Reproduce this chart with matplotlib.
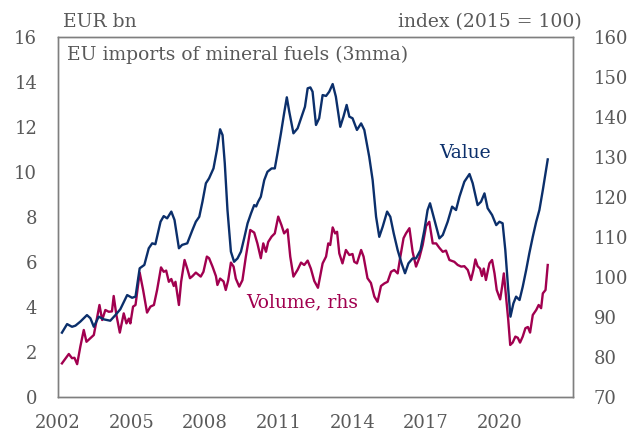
import matplotlib
matplotlib.use("Agg")
import matplotlib.pyplot as plt

# EU imports of mineral fuels, 3-month moving averages
value_dates = [2002.16, 2002.37, 2002.57, 2002.71, 2002.91, 2003.18, 2003.32, 2003.46, 2003.66, 2003.87,
               2004.13, 2004.34, 2004.54, 2004.82, 2005.02, 2005.16, 2005.33, 2005.52, 2005.70, 2005.84,
               2005.97, 2006.18, 2006.31, 2006.45, 2006.62, 2006.75, 2006.93, 2007.06, 2007.27, 2007.48,
               2007.62, 2007.76, 2007.89, 2008.03, 2008.16, 2008.34, 2008.48, 2008.61, 2008.71, 2008.80,
               2008.91, 2009.05, 2009.18, 2009.32, 2009.46, 2009.59, 2009.73, 2009.87, 2010.00, 2010.08,
               2010.16, 2010.27, 2010.41, 2010.54, 2010.71, 2010.84, 2010.95, 2011.09, 2011.22, 2011.33,
               2011.43, 2011.60, 2011.77, 2011.91, 2012.07, 2012.18, 2012.29, 2012.38, 2012.52, 2012.65,
               2012.79, 2012.93, 2013.06, 2013.20, 2013.33, 2013.51, 2013.64, 2013.77, 2013.88, 2014.01,
               2014.19, 2014.36, 2014.49, 2014.69, 2014.83, 2014.97, 2015.10, 2015.24, 2015.42, 2015.55,
               2015.69, 2015.85, 2016.01, 2016.15, 2016.29, 2016.46, 2016.60, 2016.78, 2016.94, 2017.07,
               2017.17, 2017.28, 2017.42, 2017.55, 2017.69, 2017.89, 2018.07, 2018.23, 2018.37, 2018.57,
               2018.78, 2018.91, 2019.11, 2019.25, 2019.39, 2019.52, 2019.70, 2019.87, 2020.00, 2020.13,
               2020.24, 2020.34, 2020.45, 2020.57, 2020.68, 2020.82, 2020.95, 2021.09, 2021.22, 2021.36,
               2021.50, 2021.63, 2021.77, 2021.88, 2021.97]
value_eur_bn = [2.86, 3.24, 3.12, 3.17, 3.35, 3.64, 3.50, 3.12, 3.57, 3.45,
                3.39, 3.64, 3.90, 4.53, 4.41, 4.46, 5.72, 5.87, 6.61, 6.83,
                6.79, 7.79, 8.04, 7.94, 8.24, 7.87, 6.61, 6.76, 6.83, 7.42,
                7.79, 8.01, 8.68, 9.50, 9.72, 10.16, 10.98, 11.90, 11.64, 10.39,
                8.31, 6.46, 6.01, 6.16, 6.46, 7.05, 7.72, 8.16, 8.53, 8.47,
                8.68, 8.90, 9.64, 10.01, 10.16, 10.16, 10.83, 11.72, 12.61, 13.32,
                12.68, 11.72, 11.94, 12.39, 12.90, 13.72, 13.76, 13.57, 12.09, 12.39,
                13.42, 13.38, 13.57, 13.91, 13.35, 12.01, 12.46, 12.98, 12.46, 12.39,
                11.87, 12.16, 11.87, 10.68, 9.64, 8.01, 7.12, 7.57, 8.24, 8.01,
                7.27, 6.53, 5.94, 5.50, 5.94, 6.16, 6.16, 6.53, 7.42, 8.31,
                8.61, 8.16, 7.57, 7.05, 7.20, 7.79, 8.46, 8.31, 8.90, 9.57,
                9.91, 9.50, 8.53, 8.68, 9.05, 8.39, 8.09, 7.64, 7.79, 7.72,
                6.53, 5.05, 3.57, 4.16, 4.46, 4.31, 4.90, 5.64, 6.39, 7.12,
                7.79, 8.31, 9.20, 9.94, 10.56]

volume_dates = [2002.16, 2002.44, 2002.57, 2002.67, 2002.78, 2002.91, 2003.05, 2003.16, 2003.32, 2003.46,
                2003.59, 2003.69, 2003.80, 2003.93, 2004.07, 2004.20, 2004.27, 2004.38, 2004.52, 2004.68,
                2004.79, 2004.89, 2004.95, 2005.06, 2005.16, 2005.33, 2005.47, 2005.63, 2005.77, 2005.91,
                2006.04, 2006.20, 2006.31, 2006.41, 2006.52, 2006.62, 2006.72, 2006.79, 2006.93, 2007.02,
                2007.16, 2007.27, 2007.38, 2007.48, 2007.62, 2007.82, 2007.93, 2008.07, 2008.16, 2008.30,
                2008.44, 2008.50, 2008.61, 2008.75, 2008.84, 2008.94, 2009.05, 2009.16, 2009.25, 2009.39,
                2009.52, 2009.66, 2009.84, 2010.00, 2010.13, 2010.27, 2010.37, 2010.48, 2010.57, 2010.71,
                2010.84, 2010.98, 2011.11, 2011.22, 2011.36, 2011.47, 2011.60, 2011.77, 2011.91, 2012.04,
                2012.18, 2012.31, 2012.45, 2012.60, 2012.79, 2012.93, 2013.02, 2013.10, 2013.20, 2013.30,
                2013.38, 2013.47, 2013.60, 2013.74, 2013.88, 2014.01, 2014.08, 2014.19, 2014.36, 2014.46,
                2014.62, 2014.76, 2014.90, 2015.03, 2015.17, 2015.31, 2015.44, 2015.58, 2015.71, 2015.85,
                2015.96, 2016.09, 2016.19, 2016.33, 2016.46, 2016.60, 2016.73, 2016.87, 2017.01, 2017.14,
                2017.28, 2017.42, 2017.55, 2017.69, 2017.82, 2017.96, 2018.16, 2018.30, 2018.44, 2018.57,
                2018.71, 2018.84, 2018.94, 2019.02, 2019.11, 2019.21, 2019.29, 2019.36, 2019.45, 2019.59,
                2019.70, 2019.80, 2019.89, 2020.03, 2020.11, 2020.18, 2020.27, 2020.36, 2020.44, 2020.54,
                2020.65, 2020.75, 2020.84, 2020.95, 2021.06, 2021.16, 2021.25, 2021.36, 2021.50, 2021.60,
                2021.70, 2021.77, 2021.88, 2021.97]
volume_index = [78.4, 80.75, 79.7, 79.8, 78.2, 82.6, 86.75, 83.8, 84.7, 85.5,
                89.7, 93.0, 89.25, 91.75, 91.3, 91.4, 95.25, 90.5, 86.1, 90.9,
                88.4, 89.6, 88.4, 92.6, 93.0, 101.1, 96.75, 91.1, 92.6, 93.0,
                96.75, 102.4, 101.3, 101.6, 98.8, 99.5, 97.75, 98.8, 93.0, 98.8,
                104.25, 102.1, 99.7, 100.2, 101.1, 100.1, 101.3, 105.1, 104.7, 102.6,
                100.2, 98.0, 99.6, 98.9, 96.75, 99.2, 103.6, 102.6, 99.6, 97.6,
                99.2, 105.1, 111.75, 111.1, 108.4, 104.7, 108.4, 106.3, 108.75, 110.1,
                110.9, 115.1, 113.0, 110.9, 111.9, 105.1, 100.1, 101.8, 103.6, 103.0,
                104.1, 102.1, 99.0, 97.3, 103.4, 105.1, 108.4, 108.0, 112.4, 110.9,
                111.3, 105.9, 103.4, 106.75, 105.5, 105.75, 103.8, 103.4, 106.75, 105.1,
                99.7, 98.5, 95.1, 93.8, 97.75, 98.4, 98.8, 101.3, 101.75, 100.9,
                105.1, 109.7, 110.9, 112.2, 106.3, 102.6, 104.7, 108.0, 112.75, 113.8,
                108.4, 108.4, 107.3, 106.3, 106.6, 104.25, 103.8, 103.0, 102.6, 102.7,
                101.75, 99.25, 101.75, 104.4, 102.7, 102.1, 100.25, 102.1, 99.25, 103.4,
                104.25, 100.9, 96.75, 94.4, 97.6, 100.9, 95.1, 89.25, 83.0, 83.6,
                85.1, 84.8, 83.6, 85.1, 87.2, 87.5, 86.1, 90.5, 91.75, 93.0,
                92.2, 95.9, 96.75, 103.0]

year_ticks = [2002, 2005, 2008, 2011, 2014, 2017, 2020]

blue = "#0b2f6b"
red = "#a1004f"
grey = "#595959"
font = "DejaVu Serif"

plt.rcParams["font.family"] = font

fig = plt.figure(figsize=(6.39, 4.34), dpi=100)
ax = fig.add_axes([0.0908, 0.0853, 0.8059, 0.8294])
ax2 = ax.twinx()

ax.plot(value_dates, value_eur_bn, color=blue, lw=1.7, zorder=3)
ax2.plot(volume_dates, volume_index, color=red, lw=1.7, zorder=2)
ax.set_zorder(ax2.get_zorder() + 1)
ax.patch.set_visible(False)

ax.set_xlim(2002.0, 2023.0)
ax.set_ylim(0, 16)
ax2.set_ylim(70, 160)
ax.set_yticks(range(0, 17, 2))
ax2.set_yticks(range(70, 161, 10))
ax.set_xticks(year_ticks)
ax.set_xticklabels([str(y) for y in year_ticks])

for a in (ax, ax2):
    a.tick_params(length=0, labelsize=13, colors=grey, pad=12)
    for s in a.spines.values():
        s.set_color("#7f7f7f")
        s.set_linewidth(1.0)
ax.tick_params(axis="y", pad=15)
ax2.tick_params(axis="y", pad=15)

ax.text(0.018, 0.975, "EU imports of mineral fuels (3mma)", transform=ax.transAxes,
        ha="left", va="top", fontsize=13.5, color=grey)
fig.text(63 / 639, 1 - 22 / 434, "EUR bn", ha="left", va="center", fontsize=13.5, color=grey)
fig.text(582 / 639, 1 - 22 / 434, "index (2015 = 100)", ha="right", va="center",
         fontsize=13.5, color=grey)

ax.text(2018.6, 10.85, "Value", ha="center", va="center", fontsize=13.5, color=blue)
ax.text(2011.95, 4.2, "Volume, rhs", ha="center", va="center", fontsize=13.5, color=red)

fig.savefig("out.png", dpi=100)
